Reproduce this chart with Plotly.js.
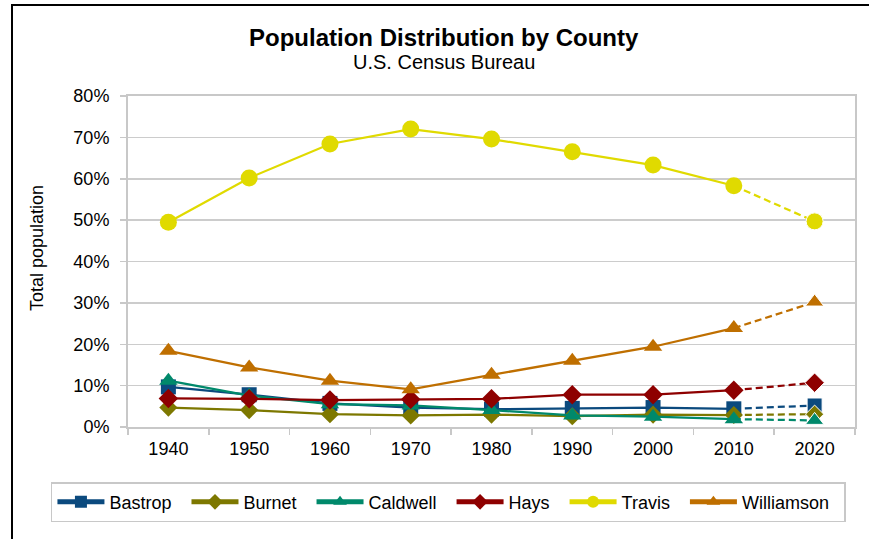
<!DOCTYPE html>
<html>
<head>
<meta charset="utf-8">
<script src="https://cdn.plot.ly/plotly-3.0.1.min.js"></script>
<style>
  html, body { margin: 0; padding: 0; background: #fff; overflow: hidden; }
  #chart { width: 869px; height: 539px; }
  #frame { position: absolute; left: 11px; top: 4px; width: 880px; height: 600px;
           border: 2.5px solid #000; pointer-events: none; box-sizing: border-box; }
</style>
</head>
<body>
<div id="chart"></div>
<div id="frame"></div>
<script>
const years = ['1940', '1950', '1960', '1970', '1980', '1990', '2000', '2010', '2020'];
const countyNames = ['Bastrop', 'Burnet', 'Caldwell', 'Hays', 'Travis', 'Williamson'];
const bastrop    = [9.7, 7.8, 5.7, 4.7, 4.3, 4.5, 4.7, 4.4, 5.2];
const burnet     = [4.7, 4.1, 3.1, 2.8, 3.0, 2.6, 3.0, 2.9, 3.1];
const caldwell   = [11.2, 7.6, 5.5, 5.2, 4.1, 2.8, 2.5, 1.9, 1.6];
const hays       = [6.9, 6.8, 6.5, 6.7, 6.8, 7.8, 7.8, 8.9, 10.7];
const travis     = [49.5, 60.2, 68.4, 72.0, 69.6, 66.5, 63.3, 58.3, 49.7];
const williamson = [18.4, 14.4, 11.2, 9.1, 12.6, 16.0, 19.4, 23.9, 30.2];
const tickVals = [0, 10, 20, 30, 40, 50, 60, 70, 80];
const tickText = ['0%', '10%', '20%', '30%', '40%', '50%', '60%', '70%', '80%'];
const titleText = 'Population Distribution by County';
const subtitleText = 'U.S. Census Bureau';
const yTitleText = 'Total population';

const seriesValues = [bastrop, burnet, caldwell, hays, travis, williamson];
const colors = ['#0B4A7E', '#7D7800', '#00896B', '#8E0000', '#E0DA00', '#BF6F00'];
const symbols = ['square', 'diamond', 'triangle-up', 'diamond', 'circle', 'triangle-up'];
const sizes = [15, 14, 16, 15, 17, 16];

const FONT = 'Liberation Sans, Arial, sans-serif';
const PAD = '\u00a0\u00a0';
const traces = [];
seriesValues.forEach((vals, i) => {
  const n = years.length;
  traces.push({
    type: 'scatter', mode: 'lines+markers', name: countyNames[i] + PAD,
    x: years.slice(0, n - 1), y: vals.slice(0, n - 1),
    line: { color: colors[i], width: 2.25 },
    marker: { color: colors[i], symbol: symbols[i], size: sizes[i], opacity: 1 }
  });
  traces.push({
    type: 'scatter', mode: 'lines+markers', name: countyNames[i],
    x: years.slice(n - 2), y: vals.slice(n - 2),
    line: { color: colors[i], width: 2.25, dash: '7px,4px' },
    marker: { color: colors[i], symbol: symbols[i], size: [0, sizes[i]], opacity: 1 },
    showlegend: false
  });
});

const layout = {
  width: 869, height: 539,
  paper_bgcolor: '#fff', plot_bgcolor: '#fff',
  margin: { l: 128, r: 14, t: 96, b: 112, pad: 0 },
  font: { family: FONT, size: 18, color: '#000' },
  annotations: [
    { text: '<b>' + titleText + '</b>', xref: 'paper', yref: 'paper', x: 0.434, y: 1.178,
      xanchor: 'center', yanchor: 'middle', showarrow: false,
      font: { family: FONT, size: 24, color: '#000' } },
    { text: subtitleText, xref: 'paper', yref: 'paper', x: 0.434, y: 1.1017,
      xanchor: 'center', yanchor: 'middle', showarrow: false,
      font: { family: FONT, size: 20, color: '#000' } },
    { text: yTitleText, xref: 'paper', yref: 'paper', x: -0.125, y: 0.541,
      xanchor: 'center', yanchor: 'middle', showarrow: false, textangle: -90,
      font: { family: FONT, size: 18, color: '#000' } }
  ],
  xaxis: {
    type: 'category', range: [-0.5, 8.5],
    showgrid: false, zeroline: false,
    showline: true, linecolor: '#C8C8C8', linewidth: 2, mirror: true,
    ticks: 'outside', tickson: 'boundaries', ticklen: 6, tickcolor: '#C8C8C8', tickwidth: 1.5,
    ticklabelstandoff: 4,
    tickfont: { family: FONT, size: 18, color: '#000' }
  },
  yaxis: {
    range: [0, 80], tickvals: tickVals, ticktext: tickText,
    showgrid: true, gridcolor: '#CCCCCC', gridwidth: 1.5,
    zeroline: false,
    showline: true, linecolor: '#C8C8C8', linewidth: 2, mirror: true,
    ticks: 'outside', ticklen: 6, tickcolor: '#C8C8C8', tickwidth: 1.5,
    ticklabelstandoff: 7,
    tickfont: { family: FONT, size: 18, color: '#000' }
  },
  legend: {
    orientation: 'h', xref: 'paper', yref: 'paper',
    x: -0.106, xanchor: 'left', y: -0.227, yanchor: 'middle',
    bordercolor: '#C8C8C8', borderwidth: 1.5, bgcolor: '#fff',
    font: { family: FONT, size: 18, color: '#000' },
    itemwidth: 47, itemsizing: 'constant'
  },
  showlegend: true
};

Plotly.newPlot('chart', traces, layout, { displayModeBar: false, staticPlot: true });
</script>
</body>
</html>
